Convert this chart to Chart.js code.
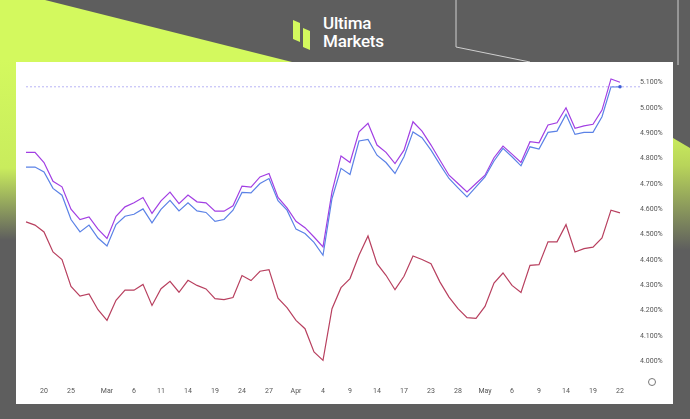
<!DOCTYPE html>
<html>
<head>
<meta charset="utf-8">
<script src="https://cdn.jsdelivr.net/npm/chart.js@4"></script>
<style>
  html, body { margin: 0; padding: 0; }
  body { width: 690px; height: 419px; position: relative; overflow: hidden; background: #5e5e5e; font-family: Roboto, "Noto Sans", sans-serif; }
  .lime-tl { position: absolute; left: 0; top: 0; width: 320px; height: 260px;
             background: linear-gradient(180deg, #d3f95e 0%, #d3f95e 70%, #8a9a4e 100%);
             clip-path: polygon(0 0, 45px 0, 300px 64px, 300px 82px, 0 82px); }
  .lime-left { position: absolute; left: 0; top: 60px; width: 16px; height: 180px;
               background: linear-gradient(180deg, #d3f95e 0%, #c9ec5d 60%, #5e5e5e 100%); }
  .lime-right { position: absolute; left: 673px; top: 120px; width: 17px; height: 130px;
                background: linear-gradient(180deg, #d3f95e 0%, #b8d45a 35%, #5e5e5e 100%);
                clip-path: polygon(0 18px, 17px 28px, 17px 130px, 0 130px); }
  .deco { position: absolute; left: 450px; top: 0; width: 240px; height: 65px; }
  .panel { position: absolute; left: 16px; top: 62px; width: 657px; height: 342px; background: #fff; }
  .logo { position: absolute; left: 293px; top: 14px; }
  .logo .mark { position: absolute; left: 0; top: 6px; width: 22px; height: 30px; }
  .logo .txt { position: absolute; left: 30px; top: 0; color: #fff; font-size: 17px; line-height: 18px; font-weight: 500; letter-spacing: -0.2px; }
  canvas { position: absolute; left: 16px; top: 62px; }
</style>
</head>
<body>
<div class="lime-tl"></div>
<div class="lime-left"></div>
<div class="lime-right"></div>
<svg class="deco" viewBox="0 0 240 65">
  <polyline points="6,0 6,47 80,62" fill="none" stroke="#cfcfcf" stroke-width="1"/>
  <line x1="228" y1="0" x2="228" y2="65" stroke="#cfcfcf" stroke-width="1"/>
</svg>
<div class="panel"></div>
<div class="logo">
  <svg class="mark" viewBox="0 0 22 30">
    <polygon points="0,0 7,3 7,22 0,19" fill="#d3f95e"/>
    <polygon points="10,8 17,11 17,30 10,27" fill="#d3f95e"/>
  </svg>
  <div class="txt">Ultima<br>Markets</div>
</div>
<canvas id="chart" width="657" height="342"></canvas>
<script>
// x positions: one entry per trading day, only some carry a tick label
const labels = ["", "", "20", "", "", "25", "", "", "", "Mar", "", "", "6", "", "", "11", "", "", "14", "", "", "19", "", "",
  "24", "", "", "27", "", "", "Apr", "", "", "4", "", "", "9", "", "", "14", "", "", "17", "", "", "23", "", "",
  "28", "", "", "May", "", "", "6", "", "", "9", "", "", "14", "", "", "19", "", "", "22"];

const yTicks = [4.0, 4.1, 4.2, 4.3, 4.4, 4.5, 4.6, 4.7, 4.8, 4.9, 5.0, 5.1];

const purpleSeries = [4.825, 4.825, 4.785, 4.711, 4.689, 4.601, 4.560, 4.570, 4.522, 4.485, 4.573, 4.610, 4.626, 4.647,
  4.584, 4.634, 4.668, 4.623, 4.657, 4.630, 4.626, 4.593, 4.593, 4.614, 4.692, 4.688, 4.728, 4.742, 4.647, 4.606,
  4.553, 4.528, 4.491, 4.452, 4.669, 4.811, 4.785, 4.906, 4.940, 4.854, 4.825, 4.781, 4.834, 4.946, 4.909, 4.854,
  4.794, 4.735, 4.702, 4.669, 4.702, 4.735, 4.804, 4.850, 4.818, 4.785, 4.867, 4.863, 4.933, 4.942, 5.001, 4.920,
  4.930, 4.936, 4.992, 5.115, 5.102];

const blueSeries = [4.767, 4.767, 4.748, 4.683, 4.656, 4.560, 4.511, 4.538, 4.487, 4.456, 4.540, 4.573, 4.581, 4.602,
  4.547, 4.600, 4.636, 4.594, 4.626, 4.594, 4.588, 4.553, 4.560, 4.597, 4.667, 4.665, 4.702, 4.722, 4.634, 4.597,
  4.522, 4.505, 4.470, 4.419, 4.643, 4.762, 4.738, 4.870, 4.876, 4.814, 4.785, 4.742, 4.808, 4.906, 4.883, 4.834,
  4.777, 4.722, 4.685, 4.649, 4.689, 4.728, 4.791, 4.841, 4.808, 4.772, 4.847, 4.838, 4.904, 4.909, 4.975, 4.896,
  4.904, 4.904, 4.966, 5.084, 5.084];

const redSeries = [4.551, 4.538, 4.511, 4.432, 4.402, 4.296, 4.258, 4.266, 4.204, 4.162, 4.241, 4.281, 4.281, 4.304,
  4.221, 4.287, 4.316, 4.273, 4.320, 4.300, 4.286, 4.248, 4.244, 4.252, 4.339, 4.319, 4.356, 4.362, 4.250, 4.212,
  4.162, 4.129, 4.037, 4.004, 4.208, 4.291, 4.327, 4.419, 4.495, 4.386, 4.340, 4.283, 4.336, 4.416, 4.402, 4.386,
  4.313, 4.254, 4.208, 4.173, 4.170, 4.217, 4.309, 4.349, 4.300, 4.272, 4.379, 4.382, 4.472, 4.472, 4.540, 4.432,
  4.445, 4.451, 4.487, 4.597, 4.586];

// dotted price line at the last value of the blue series
const priceLine = {
  id: "priceLine",
  afterDatasetsDraw(chart) {
    const { ctx, chartArea, scales } = chart;
    const last = blueSeries[blueSeries.length - 1];
    const y = scales.y.getPixelForValue(last);
    ctx.save();
    ctx.strokeStyle = "#b9b4f5";
    ctx.lineWidth = 1;
    ctx.setLineDash([2, 2]);
    ctx.beginPath();
    ctx.moveTo(chartArea.left, y);
    ctx.lineTo(chartArea.right + 22, y);
    ctx.stroke();
    ctx.setLineDash([]);
    ctx.fillStyle = "#3f5fd8";
    ctx.beginPath();
    ctx.arc(scales.x.getPixelForValue(blueSeries.length - 1), y, 1.8, 0, Math.PI * 2);
    ctx.fill();
    // settings glyph at the axis corner
    ctx.strokeStyle = "#777";
    ctx.beginPath();
    ctx.arc(636, 320, 3.5, 0, Math.PI * 2);
    ctx.stroke();
    ctx.restore();
  }
};

new Chart(document.getElementById("chart"), {
  type: "line",
  data: {
    labels: labels,
    datasets: [
      { data: redSeries, borderColor: "#b8405f", borderWidth: 1.2, pointRadius: 0, tension: 0 },
      { data: blueSeries, borderColor: "#5b82e6", borderWidth: 1.2, pointRadius: 0, tension: 0 },
      { data: purpleSeries, borderColor: "#a23fe3", borderWidth: 1.2, pointRadius: 0, tension: 0 }
    ]
  },
  options: {
    responsive: false,
    animation: false,
    layout: { padding: { top: 3, left: 8, right: 0, bottom: 0 } },
    plugins: { legend: { display: false }, tooltip: { enabled: false } },
    scales: {
      x: {
        offset: false,
        grid: { display: false },
        border: { display: false },
        ticks: { autoSkip: false, maxRotation: 0, color: "#555", font: { size: 7, family: "Roboto" }, padding: 10,
                 callback: (v, i) => labels[i] },
        afterFit: s => { s.height = 35; s.paddingTop = 0; s.paddingBottom = 0; }
      },
      y: {
        position: "right",
        min: 3.97,
        max: 5.17,
        grid: { display: false },
        border: { display: false },
        afterBuildTicks: s => { s.ticks = yTicks.map(v => ({ value: v })); },
        ticks: {
          color: "#555",
          padding: 12,
          font: { size: 7, family: "Roboto" },
          callback: v => v.toFixed(3) + "%"
        },
        afterFit: s => { s.width = 53; s.paddingTop = 0; s.paddingBottom = 0; }
      }
    }
  },
  plugins: [priceLine]
});
</script>
</body>
</html>
